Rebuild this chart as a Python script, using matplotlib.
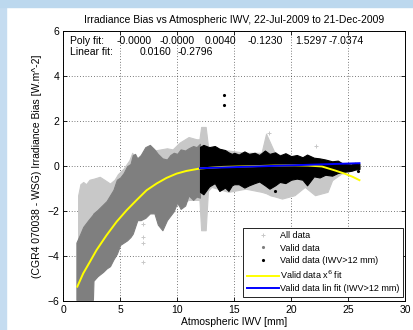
import matplotlib
matplotlib.use('Agg')
import matplotlib.pyplot as plt
from matplotlib.lines import Line2D
from matplotlib.patches import Rectangle
import numpy as np

plt.rcParams['font.family'] = ['Liberation Sans', 'DejaVu Sans']
plt.rcParams['font.size'] = 7

# --- data ---
# "All data" cloud (light grey): envelope
all_x = [1.3, 1.5, 1.75, 2.0, 2.3, 2.7, 3.2, 3.6, 4.1, 4.5, 4.8, 5.3, 5.8, 6.05, 6.3, 7.0,
         8.0, 9.1, 9.6, 10.2, 11.0, 11.7, 11.95, 12.1, 12.5, 12.7, 13.0, 14.5, 16.0, 17.4,
         17.8, 18.2, 18.6, 19.2, 20.3, 21.2, 22.1, 23.2, 23.6, 24.4, 25.3, 26.0]
all_hi = [-1.3, -0.8, -0.7, -0.8, -0.6, -0.55, -0.47, -0.6, -0.77, -0.6, -0.35, -0.1, 0.27,
          0.6, 0.3, 0.5, 0.7, 0.8, 0.75, 1.05, 1.3, 1.2, 1.2, 1.75, 1.75, 0.9, 0.8, 0.7, 0.6,
          0.6, 1.45, 1.0, 0.55, 0.5, 0.4, 0.4, 0.35, 0.2, 0.15, 0.1, 0.05, 0.0]
all_lo = [-3.3, -3.25, -3.2, -3.15, -3.1, -3.0, -2.85, -2.8, -2.6, -2.5, -2.5, -2.4, -2.4,
          -2.3, -2.3, -2.2, -2.0, -2.0, -1.8, -1.7, -1.5, -1.5, -1.5, -2.85, -2.85, -1.1,
          -0.92, -1.14, -1.0, -1.14, -1.2, -1.3, -1.35, -1.44, -1.29, -0.92, -1.29, -1.14,
          -0.62, -0.33, -0.2, -0.1]

# "Valid data" cloud (dark grey), IWV < 12 mm
val_x = [1.15, 1.5, 1.75, 2.2, 2.6, 2.65, 3.0, 3.5, 3.8, 4.1, 4.4, 4.7, 5.0, 5.3, 5.6, 5.9,
         6.1, 6.3, 6.5, 6.8, 7.2, 7.6, 8.0, 8.3, 8.7, 9.1, 9.4, 9.7, 10.0, 10.3, 10.7, 11.0,
         11.4, 11.7, 12.0]
val_hi = [-3.4, -3.0, -2.7, -2.4, -2.15, -2.1, -1.95, -1.7, -1.55, -1.3, -1.05, -0.6, -0.5,
          -0.3, 0.0, 0.1, 0.5, 0.55, 0.35, 0.5, 0.85, 0.95, 0.75, 0.55, 0.35, 0.3, 0.5, 0.6,
          0.55, 0.75, 0.7, 0.8, 0.9, 0.85, 1.0]
val_lo = [-5.95, -5.95, -5.95, -5.95, -5.95, -5.1, -4.9, -4.7, -4.55, -4.45, -4.15, -3.9,
          -3.5, -3.4, -3.3, -3.15, -3.0, -2.7, -2.4, -2.4, -2.3, -2.1, -2.1, -2.6, -2.85,
          -2.4, -2.2, -2.0, -1.6, -1.9, -1.75, -1.3, -1.5, -1.35, -1.4]

# "Valid data (IWV>12 mm)" cloud (black)
wet_x = [12.0, 12.3, 12.8, 13.3, 13.7, 14.2, 14.5, 14.8, 15.0, 15.4, 15.9, 16.3, 16.8, 17.2,
         17.7, 18.1, 18.6, 19.0, 19.5, 20.0, 20.5, 21.0, 21.4, 22.0, 22.5, 23.0, 23.6, 24.1,
         24.6, 25.3, 25.6, 26.0]
wet_hi = [0.86, 0.95, 0.85, 0.9, 0.78, 0.72, 0.62, 0.55, 0.6, 0.52, 0.66, 0.55, 0.6, 0.5,
          0.7, 0.55, 0.62, 0.48, 0.58, 0.45, 0.5, 0.4, 0.52, 0.38, 0.35, 0.3, 0.22, 0.25,
          0.1, 0.08, 0.15, 0.1]
wet_lo = [-1.14, -1.25, -0.9, -0.75, -1.1, -0.95, -1.1, -0.85, -0.8, -0.8, -0.95, -0.85,
          -0.75, -0.68, -0.85, -1.0, -0.85, -0.7, -0.75, -0.6, -0.55, -0.6, -0.85, -0.45,
          -0.5, -0.38, -0.42, -0.3, -0.25, -0.2, -0.15, -0.12]

# single stray points
stray_all_x = [7.0, 7.0, 7.0, 7.0, 18.1, 22.2]
stray_all_y = [-2.55, -3.14, -3.44, -4.25, 1.47, 0.9]
stray_wet_x = [14.1, 14.1, 18.6, 25.9]
stray_wet_y = [3.19, 2.72, -1.1, -0.2]

# fit curves
poly_x = [1.23, 1.75, 2.34, 2.92, 3.8, 4.68, 5.56, 6.43, 7.31, 8.19, 9.06, 9.94, 10.8, 12.0,
          14.0, 16.5, 18.5, 20.3, 21.5, 22.7, 23.8, 24.7, 25.4, 26.0]
poly_y = [-5.36, -4.77, -4.25, -3.73, -3.07, -2.47, -1.96, -1.51, -1.07, -0.77, -0.52, -0.33,
          -0.21, -0.1, -0.03, 0.0, 0.03, 0.04, 0.03, -0.01, -0.18, -0.33, -0.47, -0.62]
lin_x = [12.0, 26.0]
lin_y = [-0.088, 0.136]

poly_coef = ['-0.0000', '-0.0000', '0.0040', '-0.1230', '1.5297', '-7.0374']
lin_coef = ['0.0160', '-0.2796']

light = '#c8c8c8'
mid = '#7f7f7f'

fig = plt.figure(figsize=(4.14, 3.30), dpi=100)
fig.patches.append(Rectangle((0, 0), 6 / 414, 1, transform=fig.transFigure,
                             color='#c5dcf0', zorder=-10))
fig.patches.append(Rectangle((0, 1 - 7 / 330), 1, 7 / 330, transform=fig.transFigure,
                             color='#bcd8ee', zorder=-10))
ax = fig.add_axes([0.1529, 0.0879, 0.8254, 0.8167])

ax.fill_between(all_x, all_lo, all_hi, color=light, lw=0.8, zorder=2)
ax.plot(stray_all_x, stray_all_y, '+', color=light, ms=2.5, mew=0.7, zorder=2)
ax.fill_between(val_x, val_lo, val_hi, color=mid, lw=0.8, zorder=3)
ax.fill_between(wet_x, wet_lo, wet_hi, color='k', lw=0.8, zorder=4)
ax.plot(stray_wet_x, stray_wet_y, '.', color='k', ms=2.5, zorder=4)
ax.plot(poly_x, poly_y, color='#ffff00', lw=1.4, zorder=5)
ax.plot(lin_x, lin_y, color='#0000ff', lw=1.4, zorder=6)

ax.set_xlim(0, 30)
ax.set_ylim(-6, 6)
ax.set_xticks(np.arange(0, 31, 5))
ax.set_yticks(np.arange(-6, 7, 2))
ax.tick_params(direction='in', length=3, width=0.6, top=True, right=True, labelsize=7.5, pad=3)
ax.grid(True, color='k', linestyle=(0, (1, 3)), linewidth=0.5, zorder=1)
ax.set_axisbelow(True)
for s in ax.spines.values():
    s.set_linewidth(0.7)

ax.set_title('Irradiance Bias vs Atmospheric IWV, 22-Jul-2009 to 21-Dec-2009', fontsize=7.5, pad=6)
ax.set_xlabel('Atmospheric IWV [mm]', fontsize=7.5, labelpad=1)
ax.set_ylabel('(CGR4 070038 - WSG) Irradiance Bias [W.m^-2]', fontsize=7.5, labelpad=4)

tx = ax.transAxes
ax.text(0.019, 0.965, 'Poly fit:', transform=tx, va='center', fontsize=7.5, zorder=7)
ax.text(0.019, 0.925, 'Linear fit:', transform=tx, va='center', fontsize=7.5, zorder=7)
poly_pos = [0.157, 0.283, 0.415, 0.538, 0.678, 0.775]
for p, c in zip(poly_pos, poly_coef):
    ax.text(p, 0.965, c, transform=tx, va='center', fontsize=7.5, zorder=7)
for p, c in zip([0.224, 0.335], lin_coef):
    ax.text(p, 0.925, c, transform=tx, va='center', fontsize=7.5, zorder=7)

handles = [
    Line2D([], [], ls='none', marker='+', color=light, ms=2.5, mew=0.7),
    Line2D([], [], ls='none', marker='.', color=mid, ms=2.5),
    Line2D([], [], ls='none', marker='.', color='k', ms=2.5),
    Line2D([], [], color='#ffff00', lw=1.4),
    Line2D([], [], color='#0000ff', lw=1.4),
]
labels = ['All data', 'Valid data', 'Valid data (IWV>12 mm)', 'Valid data x$^6$ fit',
          'Valid data lin fit (IWV>12 mm)']
leg = ax.legend(handles, labels, loc='lower right', bbox_to_anchor=(0.994, 0.015),
                borderaxespad=0, fontsize=6.5, handlelength=3.5, handletextpad=0.15,
                labelspacing=0.38, fancybox=False, framealpha=1, edgecolor='k',
                borderpad=0.4)
leg.get_frame().set_linewidth(0.6)
leg.set_zorder(10)

fig.savefig('out.png', dpi=100)
